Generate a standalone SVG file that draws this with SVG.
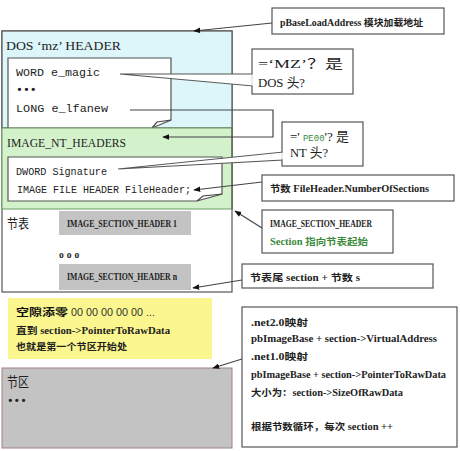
<svg xmlns="http://www.w3.org/2000/svg" width="460" height="451" viewBox="0 0 460 451">
<defs>
<marker id="ah" viewBox="0 0 10 10" refX="9" refY="5" markerWidth="7" markerHeight="7" markerUnits="userSpaceOnUse" orient="auto">
<path d="M0,1 L10,5 L0,9 Z" fill="#111"/>
</marker>
<style>
.box{fill:#fff;stroke:#555;stroke-width:1.2}
.ln{fill:none;stroke:#444;stroke-width:1.2}
.tail{fill:#fff;stroke:#555;stroke-width:1.1}
.ar{fill:none;stroke:#444;stroke-width:1.2;marker-end:url(#ah)}
.ser{font-family:"Liberation Serif","Noto Sans CJK SC",serif;fill:#222}
.mono{font-family:"Liberation Mono","Noto Sans CJK SC",monospace;fill:#222}
.cjk{font-family:"Liberation Serif","Noto Sans CJK SC",serif;fill:#111;font-size:10px}
.sm{font-family:"Liberation Serif","Noto Sans CJK SC",serif;fill:#222;font-size:9.5px;font-weight:bold}
.gray{fill:#c3c3c3;stroke:none}
</style>
</defs>
<rect width="460" height="451" fill="#fff"/>

<g id="pe-image">
<rect x="2" y="31" width="230" height="261" fill="#fff" stroke="#555" stroke-width="1.2"/>
</g>

<g id="dos-header">
<rect x="2" y="31" width="230" height="97" fill="#dcf6fa" stroke="#555" stroke-width="1.2"/>
<text class="ser" x="6" y="50" font-size="13" textLength="115" lengthAdjust="spacingAndGlyphs">DOS ‘mz’ HEADER</text>
</g>

<g id="dos-fields">
<path d="M8,58 H171 V120 L152,128 H8 Z" class="box"/>
<path d="M152,128 L157,122 L171,120" class="ln" stroke-width="1"/>
<text class="mono" x="16" y="76" font-size="11.5" textLength="84" lengthAdjust="spacingAndGlyphs">WORD e_magic</text>
<text class="mono" x="16" y="93" font-size="11.5" font-weight="bold">•••</text>
<text class="mono" x="16" y="112" font-size="11.5" textLength="92" lengthAdjust="spacingAndGlyphs">LONG e_lfanew</text>
</g>

<g id="nt-headers">
<rect x="2" y="128" width="230" height="81" fill="#d3f2cb" stroke="#6a9a60" stroke-width="1"/>
<line x1="232" y1="128" x2="232" y2="209" stroke="#555" stroke-width="1.2"/>
<text class="ser" x="7" y="147" font-size="13" textLength="119" lengthAdjust="spacingAndGlyphs">IMAGE_NT_HEADERS</text>
</g>

<g id="nt-fields">
<path d="M8,157 H222 V194 L197,201 H8 Z" class="box"/>
<path d="M197,201 L203,196 L222,194" class="ln" stroke-width="1"/>
<text class="mono" x="16" y="175" font-size="10" textLength="91" lengthAdjust="spacingAndGlyphs">DWORD Signature</text>
<text class="mono" x="17" y="193" font-size="10" textLength="174" lengthAdjust="spacingAndGlyphs">IMAGE FILE HEADER FileHeader;</text>
</g>

<g id="section-table">
<text class="ser" x="7" y="228" font-size="13" textLength="22" lengthAdjust="spacingAndGlyphs">节表</text>
<text class="sm" x="59" y="258" font-size="9" letter-spacing="3">ooo</text>
</g>

<g id="section-header-1">
<rect class="gray" x="59" y="211" width="132" height="24"/>
<text class="sm" x="67" y="227" textLength="110" lengthAdjust="spacingAndGlyphs">IMAGE_SECTION_HEADER 1</text>
</g>

<g id="section-header-n">
<rect class="gray" x="59" y="264" width="132" height="26"/>
<text class="sm" x="67" y="280" textLength="110" lengthAdjust="spacingAndGlyphs">IMAGE_SECTION_HEADER n</text>
</g>

<g id="padding">
<rect x="8" y="298" width="204" height="61" fill="#fbf78e"/>
<text class="cjk" x="16" y="316" font-size="11" font-weight="bold" textLength="52" lengthAdjust="spacingAndGlyphs">空隙添零</text>
<text x="71" y="316" font-family="Liberation Sans,sans-serif" font-size="10.5" fill="#333" textLength="84" lengthAdjust="spacingAndGlyphs">00 00 00 00 00 ...</text>
<text class="sm" x="16" y="334" textLength="154" lengthAdjust="spacingAndGlyphs">直到 section-&gt;PointerToRawData</text>
<text class="sm" x="16" y="350" textLength="111" lengthAdjust="spacingAndGlyphs">也就是第一个节区开始处</text>
</g>

<g id="sections">
<rect x="2" y="368" width="230" height="80" fill="#c3c3c3" stroke="#a08080" stroke-width="1"/>
<text class="ser" x="7" y="387" font-size="14" textLength="22" lengthAdjust="spacingAndGlyphs">节区</text>
<text class="mono" x="7" y="404" font-size="11" font-weight="bold">•••</text>
</g>

<g id="note-base">
<rect class="box" x="272" y="8" width="172" height="26"/>
<text class="sm" x="280" y="26" textLength="143" lengthAdjust="spacingAndGlyphs">pBaseLoadAddress 模块加载地址</text>
</g>

<g id="note-mz">
<polygon class="tail" points="120,74 253,74 253,86"/>
<rect class="box" x="252" y="49" width="101" height="45"/>
<line x1="252" y1="74.6" x2="252" y2="85.4" stroke="#fff" stroke-width="1.6"/>
<text class="ser" x="258" y="68" font-size="13" textLength="85" lengthAdjust="spacingAndGlyphs">=‘MZ’？是</text>
<text class="ser" x="258" y="87" font-size="13" textLength="47" lengthAdjust="spacingAndGlyphs">DOS 头?</text>
</g>

<g id="note-pe">
<polygon class="tail" points="118,169 283,152 283,160"/>
<rect class="box" x="282" y="122" width="81" height="44"/>
<line x1="282" y1="152.8" x2="282" y2="159.3" stroke="#fff" stroke-width="1.6"/>
<text class="ser" x="290" y="141" font-size="13">=' <tspan font-family="Liberation Mono,monospace" font-size="9" fill="#3a8a3a">PE00</tspan>'? 是</text>
<text class="ser" x="290" y="157" font-size="13" textLength="38" lengthAdjust="spacingAndGlyphs">NT 头?</text>
</g>

<g id="note-numsec">
<rect class="box" x="262" y="175" width="192" height="26"/>
<text class="sm" x="270" y="192" textLength="159" lengthAdjust="spacingAndGlyphs">节数 FileHeader.NumberOfSections</text>
</g>

<g id="note-sechdr">
<rect class="box" x="262" y="210" width="131" height="43"/>
<text class="sm" x="270" y="227" textLength="102" lengthAdjust="spacingAndGlyphs">IMAGE_SECTION_HEADER</text>
<text class="sm" x="270" y="245" fill="#3a8a3a" style="fill:#3a8a3a" textLength="98" lengthAdjust="spacingAndGlyphs">Section 指向节表起始</text>
</g>

<g id="note-tableend">
<rect class="box" x="242" y="264" width="191" height="24"/>
<text class="sm" x="250" y="281" textLength="110" lengthAdjust="spacingAndGlyphs">节表尾 section + 节数 s</text>
</g>

<g id="note-mapping">
<rect class="box" x="242" y="307" width="215" height="140"/>
<text class="sm" x="251" y="326" textLength="57" lengthAdjust="spacingAndGlyphs">.net2.0映射</text>
<text class="sm" x="251" y="342" textLength="186" lengthAdjust="spacingAndGlyphs">pbImageBase + section-&gt;VirtualAddress</text>
<text class="sm" x="251" y="360" textLength="57" lengthAdjust="spacingAndGlyphs">.net1.0映射</text>
<text class="sm" x="251" y="378" textLength="195" lengthAdjust="spacingAndGlyphs">pbImageBase + section-&gt;PointerToRawData</text>
<text class="sm" x="251" y="396" textLength="152" lengthAdjust="spacingAndGlyphs">大小为：section-&gt;SizeOfRawData</text>
<text class="sm" x="251" y="430" textLength="142" lengthAdjust="spacingAndGlyphs">根据节数循环，每次 section ++</text>
</g>

<g id="connectors">
<line class="ar" x1="272" y1="23" x2="194" y2="31"/>
<polyline class="ar" points="130,110 273,110 273,137 163,137"/>
<line class="ar" x1="262" y1="182" x2="194" y2="190"/>
<line class="ar" x1="262" y1="228" x2="235" y2="211"/>
<line class="ar" x1="242" y1="280" x2="193" y2="288"/>
<line class="ar" x1="242" y1="359" x2="213" y2="368"/>
</g>
</svg>
